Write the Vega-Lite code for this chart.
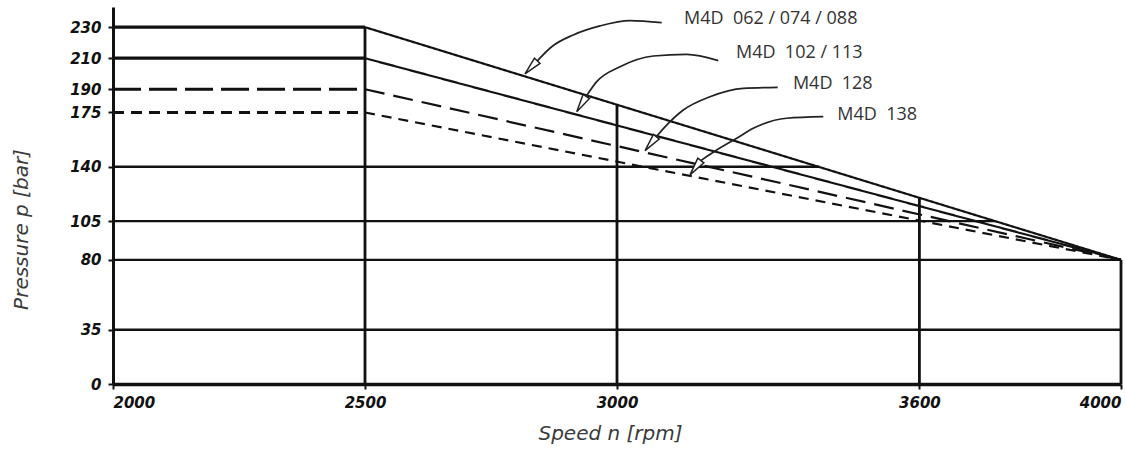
{
  "$schema": "https://vega.github.io/schema/vega-lite/v6.json",
  "width": 1008,
  "height": 377,
  "autosize": {"type": "none"},
  "padding": {"left": 113, "top": 7, "right": 5, "bottom": 66},
  "background": "white",
  "config": {
    "view": {"stroke": null},
    "axisX": {
      "grid": false,
      "domainColor": "#111111",
      "domainWidth": 3.3,
      "tickColor": "#111111",
      "tickWidth": 2,
      "tickSize": 5,
      "labelFlush": true,
      "labelFont": "DejaVu Sans",
      "labelFontSize": 15,
      "labelFontStyle": "italic",
      "labelFontWeight": "bold",
      "labelColor": "#111111",
      "labelPadding": 6,
      "titleFont": "DejaVu Sans",
      "titleFontSize": 20,
      "titleFontStyle": "italic",
      "titleFontWeight": "normal",
      "titleColor": "#3a3a3a",
      "titleX": 497,
      "titleY": 49,
      "titleAlign": "center",
      "titleBaseline": "middle"
    },
    "axisY": {
      "grid": false,
      "domainColor": "#111111",
      "domainWidth": 3,
      "tickColor": "#111111",
      "tickWidth": 2,
      "tickSize": 5,
      "labelFont": "DejaVu Sans",
      "labelFontSize": 15,
      "labelFontStyle": "italic",
      "labelFontWeight": "bold",
      "labelColor": "#111111",
      "labelPadding": 7,
      "titleFont": "DejaVu Sans",
      "titleFontSize": 20,
      "titleFontStyle": "italic",
      "titleFontWeight": "normal",
      "titleColor": "#3a3a3a",
      "titleAngle": 270,
      "titleX": -92,
      "titleY": 222,
      "titleAlign": "center",
      "titleBaseline": "middle"
    }
  },
  "datasets": {
    "hgrid": [
      {"p": 140, "rpm": 2000, "rpm2": 3400},
      {"p": 105, "rpm": 2000, "rpm2": 3750},
      {"p": 80, "rpm": 2000, "rpm2": 4000},
      {"p": 35, "rpm": 2000, "rpm2": 4000}
    ],
    "vgrid": [
      {"rpm": 2500, "p": 0, "p2": 230},
      {"rpm": 3000, "p": 0, "p2": 180},
      {"rpm": 3600, "p": 0, "p2": 120},
      {"rpm": 4000, "p": 0, "p2": 80}
    ],
    "curves": [
      {"model": "M4D 062/074/088", "seg": "flat", "rpm": 2000, "p": 230},
      {"model": "M4D 062/074/088", "seg": "flat", "rpm": 2500, "p": 230},
      {"model": "M4D 062/074/088", "seg": "slope", "rpm": 2500, "p": 230},
      {"model": "M4D 062/074/088", "seg": "slope", "rpm": 4000, "p": 80},
      {"model": "M4D 102/113", "seg": "flat", "rpm": 2000, "p": 210},
      {"model": "M4D 102/113", "seg": "flat", "rpm": 2500, "p": 210},
      {"model": "M4D 102/113", "seg": "slope", "rpm": 2500, "p": 210},
      {"model": "M4D 102/113", "seg": "slope", "rpm": 4000, "p": 80},
      {"model": "M4D 128", "seg": "flat", "rpm": 2000, "p": 190},
      {"model": "M4D 128", "seg": "flat", "rpm": 2500, "p": 190},
      {"model": "M4D 128", "seg": "slope", "rpm": 2500, "p": 190},
      {"model": "M4D 128", "seg": "slope", "rpm": 4000, "p": 80},
      {"model": "M4D 138", "seg": "flat", "rpm": 2000, "p": 175},
      {"model": "M4D 138", "seg": "flat", "rpm": 2500, "p": 175},
      {"model": "M4D 138", "seg": "slope", "rpm": 2500, "p": 175},
      {"model": "M4D 138", "seg": "slope", "rpm": 4000, "p": 80}
    ],
    "arrows": [
      {"id": 1, "rpm": 3088.7, "p": 232.9},
      {"id": 1, "rpm": 3025.8, "p": 234.2},
      {"id": 1, "rpm": 2966.3, "p": 230.8},
      {"id": 1, "rpm": 2913.3, "p": 225.0},
      {"id": 1, "rpm": 2870.4, "p": 217.4},
      {"id": 1, "rpm": 2842.0, "p": 208.3},
      {"id": 2, "rpm": 3201.0, "p": 208.4},
      {"id": 2, "rpm": 3138.3, "p": 212.5},
      {"id": 2, "rpm": 3072.0, "p": 211.4},
      {"id": 2, "rpm": 3006.0, "p": 204.5},
      {"id": 2, "rpm": 2959.7, "p": 194.9},
      {"id": 2, "rpm": 2938.5, "p": 185.2},
      {"id": 3, "rpm": 3318.9, "p": 191.2},
      {"id": 3, "rpm": 3250.6, "p": 190.6},
      {"id": 3, "rpm": 3184.5, "p": 185.2},
      {"id": 3, "rpm": 3131.5, "p": 176.6},
      {"id": 3, "rpm": 3095.2, "p": 165.7},
      {"id": 3, "rpm": 3078.2, "p": 159.4},
      {"id": 4, "rpm": 3409.3, "p": 172.3},
      {"id": 4, "rpm": 3336.7, "p": 171.3},
      {"id": 4, "rpm": 3270.4, "p": 164.8},
      {"id": 4, "rpm": 3237.5, "p": 158.4},
      {"id": 4, "rpm": 3197.8, "p": 150.8},
      {"id": 4, "rpm": 3166.3, "p": 144.0}
    ],
    "labels": [
      {"text": "M4D\u00a0 062 / 074 / 088", "rpm": 3133, "p": 235.3},
      {"text": "M4D\u00a0 102 / 113", "rpm": 3236, "p": 213.4},
      {"text": "M4D\u00a0 128", "rpm": 3349, "p": 193.4},
      {"text": "M4D\u00a0 138", "rpm": 3437, "p": 173.4}
    ]
  },
  "resolve": {"scale": {"strokeDash": "independent"}},
  "layer": [
    {
      "data": {"name": "hgrid"},
      "mark": {"type": "rule", "color": "#111111", "strokeWidth": 2.4},
      "encoding": {
        "x": {"field": "rpm", "type": "quantitative", "title": "Speed n [rpm]", "axis": {"values": [2000, 2500, 3000, 3600, 4000], "format": "d"}, "scale": {"domain": [2000, 4000], "nice": false, "zero": false}},
        "x2": {"field": "rpm2"},
        "y": {"field": "p", "type": "quantitative", "title": "Pressure p [bar]", "axis": {"values": [0, 35, 80, 105, 140, 175, 190, 210, 230], "format": "d"}, "scale": {"domain": [0, 243], "nice": false, "zero": true}}
      }
    },
    {
      "data": {"name": "vgrid"},
      "mark": {"type": "rule", "color": "#111111", "strokeWidth": 2.8},
      "encoding": {
        "x": {"field": "rpm", "type": "quantitative", "title": "Speed n [rpm]", "axis": {"values": [2000, 2500, 3000, 3600, 4000], "format": "d"}, "scale": {"domain": [2000, 4000], "nice": false, "zero": false}},
        "y": {"field": "p", "type": "quantitative", "title": "Pressure p [bar]", "axis": {"values": [0, 35, 80, 105, 140, 175, 190, 210, 230], "format": "d"}, "scale": {"domain": [0, 243], "nice": false, "zero": true}},
        "y2": {"field": "p2"}
      }
    },
    {
      "data": {"name": "curves"},
      "transform": [{"filter": "datum.seg === 'flat'"}],
      "mark": {"type": "line", "color": "#111111", "strokeWidth": 3.2, "strokeCap": "butt"},
      "encoding": {
        "x": {"field": "rpm", "type": "quantitative", "title": "Speed n [rpm]", "axis": {"values": [2000, 2500, 3000, 3600, 4000], "format": "d"}, "scale": {"domain": [2000, 4000], "nice": false, "zero": false}},
        "y": {"field": "p", "type": "quantitative", "title": "Pressure p [bar]", "axis": {"values": [0, 35, 80, 105, 140, 175, 190, 210, 230], "format": "d"}, "scale": {"domain": [0, 243], "nice": false, "zero": true}},
        "strokeDash": {
          "field": "model", "type": "nominal", "legend": null,
          "scale": {"domain": ["M4D 062/074/088", "M4D 102/113", "M4D 128", "M4D 138"], "range": [[1, 0], [1, 0], [28, 8], [11, 7]]}
        }
      }
    },
    {
      "data": {"name": "curves"},
      "transform": [{"filter": "datum.seg === 'slope'"}],
      "mark": {"type": "line", "color": "#111111", "strokeWidth": 2.2, "strokeCap": "butt"},
      "encoding": {
        "x": {"field": "rpm", "type": "quantitative", "title": "Speed n [rpm]", "axis": {"values": [2000, 2500, 3000, 3600, 4000], "format": "d"}, "scale": {"domain": [2000, 4000], "nice": false, "zero": false}},
        "y": {"field": "p", "type": "quantitative", "title": "Pressure p [bar]", "axis": {"values": [0, 35, 80, 105, 140, 175, 190, 210, 230], "format": "d"}, "scale": {"domain": [0, 243], "nice": false, "zero": true}},
        "strokeDash": {
          "field": "model", "type": "nominal", "legend": null,
          "scale": {"domain": ["M4D 062/074/088", "M4D 102/113", "M4D 128", "M4D 138"], "range": [[1, 0], [1, 0], [20, 9], [10, 7]]}
        }
      }
    },
    {
      "data": {"name": "arrows"},
      "mark": {"type": "line", "color": "#222222", "strokeWidth": 1.7, "interpolate": "monotone"},
      "encoding": {
        "x": {"field": "rpm", "type": "quantitative", "title": "Speed n [rpm]", "axis": {"values": [2000, 2500, 3000, 3600, 4000], "format": "d"}, "scale": {"domain": [2000, 4000], "nice": false, "zero": false}},
        "y": {"field": "p", "type": "quantitative", "title": "Pressure p [bar]", "axis": {"values": [0, 35, 80, 105, 140, 175, 190, 210, 230], "format": "d"}, "scale": {"domain": [0, 243], "nice": false, "zero": true}},
        "detail": {"field": "id", "type": "nominal"}
      }
    },
    {
      "data": {"values": [{"rpm": 2829.6, "p": 204.1}]},
      "mark": {"type": "point", "shape": "M0,1L-0.42,-1L0.42,-1Z", "size": 324, "angle": 43, "filled": true, "fill": "white", "stroke": "#222222", "strokeWidth": 1.5, "opacity": 1},
      "encoding": {
        "x": {"field": "rpm", "type": "quantitative", "title": "Speed n [rpm]", "axis": {"values": [2000, 2500, 3000, 3600, 4000], "format": "d"}, "scale": {"domain": [2000, 4000], "nice": false, "zero": false}},
        "y": {"field": "p", "type": "quantitative", "title": "Pressure p [bar]", "axis": {"values": [0, 35, 80, 105, 140, 175, 190, 210, 230], "format": "d"}, "scale": {"domain": [0, 243], "nice": false, "zero": true}}
      }
    },
    {
      "data": {"values": [{"rpm": 2929.6, "p": 180.4}]},
      "mark": {"type": "point", "shape": "M0,1L-0.42,-1L0.42,-1Z", "size": 324, "angle": 32, "filled": true, "fill": "white", "stroke": "#222222", "strokeWidth": 1.5, "opacity": 1},
      "encoding": {
        "x": {"field": "rpm", "type": "quantitative", "title": "Speed n [rpm]", "axis": {"values": [2000, 2500, 3000, 3600, 4000], "format": "d"}, "scale": {"domain": [2000, 4000], "nice": false, "zero": false}},
        "y": {"field": "p", "type": "quantitative", "title": "Pressure p [bar]", "axis": {"values": [0, 35, 80, 105, 140, 175, 190, 210, 230], "format": "d"}, "scale": {"domain": [0, 243], "nice": false, "zero": true}}
      }
    },
    {
      "data": {"values": [{"rpm": 3066.9, "p": 154.9}]},
      "mark": {"type": "point", "shape": "M0,1L-0.42,-1L0.42,-1Z", "size": 324, "angle": 39, "filled": true, "fill": "white", "stroke": "#222222", "strokeWidth": 1.5, "opacity": 1},
      "encoding": {
        "x": {"field": "rpm", "type": "quantitative", "title": "Speed n [rpm]", "axis": {"values": [2000, 2500, 3000, 3600, 4000], "format": "d"}, "scale": {"domain": [2000, 4000], "nice": false, "zero": false}},
        "y": {"field": "p", "type": "quantitative", "title": "Pressure p [bar]", "axis": {"values": [0, 35, 80, 105, 140, 175, 190, 210, 230], "format": "d"}, "scale": {"domain": [0, 243], "nice": false, "zero": true}}
      }
    },
    {
      "data": {"values": [{"rpm": 3155.6, "p": 139.4}]},
      "mark": {"type": "point", "shape": "M0,1L-0.42,-1L0.42,-1Z", "size": 324, "angle": 37, "filled": true, "fill": "white", "stroke": "#222222", "strokeWidth": 1.5, "opacity": 1},
      "encoding": {
        "x": {"field": "rpm", "type": "quantitative", "title": "Speed n [rpm]", "axis": {"values": [2000, 2500, 3000, 3600, 4000], "format": "d"}, "scale": {"domain": [2000, 4000], "nice": false, "zero": false}},
        "y": {"field": "p", "type": "quantitative", "title": "Pressure p [bar]", "axis": {"values": [0, 35, 80, 105, 140, 175, 190, 210, 230], "format": "d"}, "scale": {"domain": [0, 243], "nice": false, "zero": true}}
      }
    },
    {
      "data": {"name": "labels"},
      "mark": {"type": "text", "align": "left", "baseline": "middle", "font": "Open Sans", "fontSize": 18, "color": "#333333"},
      "encoding": {
        "x": {"field": "rpm", "type": "quantitative", "title": "Speed n [rpm]", "axis": {"values": [2000, 2500, 3000, 3600, 4000], "format": "d"}, "scale": {"domain": [2000, 4000], "nice": false, "zero": false}},
        "y": {"field": "p", "type": "quantitative", "title": "Pressure p [bar]", "axis": {"values": [0, 35, 80, 105, 140, 175, 190, 210, 230], "format": "d"}, "scale": {"domain": [0, 243], "nice": false, "zero": true}},
        "text": {"field": "text"}
      }
    }
  ]
}
